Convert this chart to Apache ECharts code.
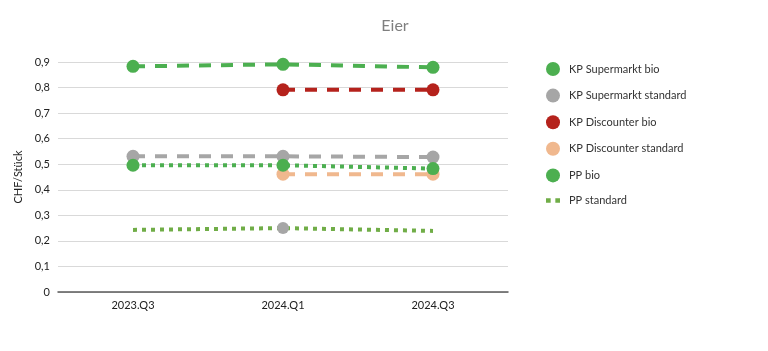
<!DOCTYPE html>
<html>
<head>
<meta charset="utf-8">
<script src="https://cdn.jsdelivr.net/npm/echarts@6/dist/echarts.min.js"></script>
<style>
html,body{margin:0;padding:0;background:#fff;}
#chart{width:768px;height:351px;}
</style>
</head>
<body>
<div id="chart"></div>
<script>
// Kategorien und Werte (CHF/Stück)
var categories = ['2023.Q3', '2024.Q1', '2024.Q3'];
var kpSupermarktBio = [0.883, 0.891, 0.879];
var kpSupermarktStd = [0.531, 0.531, 0.528];
var kpDiscounterBio = [null, 0.791, 0.791];
var kpDiscounterStd = [null, 0.461, 0.461];
var ppBio = [0.496, 0.496, 0.483];
var ppStd = [0.243, 0.25, 0.239];
var yTicks = [0, 0.1, 0.2, 0.3, 0.4, 0.5, 0.6, 0.7, 0.8, 0.9];

var FONT = 'Lato, "Open Sans", sans-serif';

function dashed(name, data, color) {
	return {
		name: name,
		type: 'line',
		data: data,
		symbol: 'circle',
		symbolSize: 13,
		showSymbol: true,
		itemStyle: {color: color},
		lineStyle: {color: color, width: 4, type: [12, 10]},
		z: 3
	};
}

var chart = echarts.init(document.getElementById('chart'));
chart.setOption({
	animation: false,
	title: {
		text: 'Eier',
		left: 390,
		top: 13,
		textAlign: 'center',
		textStyle: {fontFamily: FONT, fontSize: 16, fontWeight: 'normal', color: '#7f7f7f'}
	},
	legend: {
		orient: 'vertical',
		left: 541,
		top: 57,
		itemWidth: 14,
		itemHeight: 14,
		itemGap: 12.6,
		textStyle: {fontFamily: FONT, fontSize: 11, color: '#333', padding: [0, 0, 0, 4]},
		data: [
			{name: 'KP Supermarkt bio', icon: 'circle'},
			{name: 'KP Supermarkt standard', icon: 'circle'},
			{name: 'KP Discounter bio', icon: 'circle'},
			{name: 'KP Discounter standard', icon: 'circle'},
			{name: 'PP bio', icon: 'circle'},
			{name: 'PP standard', icon: 'path://M0,0h4v4h-4z M8,0h4v4h-4z', itemStyle: {color: '#70ad47'}}
		]
	},
	grid: {left: 58, right: 260, top: 62, bottom: 59},
	xAxis: {
		type: 'category',
		data: categories,
		boundaryGap: true,
		axisLine: {lineStyle: {color: '#595959', width: 1.5}},
		axisTick: {show: false},
		axisLabel: {fontFamily: FONT, fontSize: 11, color: '#222', margin: 8}
	},
	yAxis: {
		type: 'value',
		min: 0,
		max: 0.9,
		interval: 0.1,
		name: 'CHF/Stück',
		nameLocation: 'middle',
		nameGap: 33,
		nameTextStyle: {fontFamily: FONT, fontSize: 11, color: '#222'},
		axisLine: {show: false},
		axisTick: {show: false},
		splitLine: {lineStyle: {color: '#d9d9d9', width: 1}},
		axisLabel: {
			fontFamily: FONT, fontSize: 11, color: '#222', margin: 8,
			formatter: function (v) {
				var t = yTicks.filter(function (x) { return Math.abs(x - v) < 1e-6; })[0];
				return t === 0 ? '0' : String(+v.toFixed(1)).replace('.', ',');
			}
		}
	},
	series: [
		dashed('KP Supermarkt bio', kpSupermarktBio, '#4caf50'),
		dashed('KP Supermarkt standard', kpSupermarktStd, '#a6a6a6'),
		dashed('KP Discounter bio', kpDiscounterBio, '#b5221c'),
		dashed('KP Discounter standard', kpDiscounterStd, '#f0b88e'),
		{
			name: 'PP bio',
			type: 'line',
			data: ppBio,
			symbol: 'circle',
			symbolSize: 13,
			itemStyle: {color: '#4caf50'},
			lineStyle: {color: '#4caf50', width: 4, type: [4, 5]},
			z: 4
		},
		{
			name: 'PP standard',
			type: 'line',
			data: ppStd.map(function (v, i) {
				return i === 1
					? {value: v, symbol: 'circle', symbolSize: 12, itemStyle: {color: '#a6a6a6'}}
					: {value: v, symbol: 'none'};
			}),
			itemStyle: {color: '#70ad47'},
			lineStyle: {color: '#70ad47', width: 4, type: [4, 5]},
			z: 3
		}
	]
});
</script>
</body>
</html>
